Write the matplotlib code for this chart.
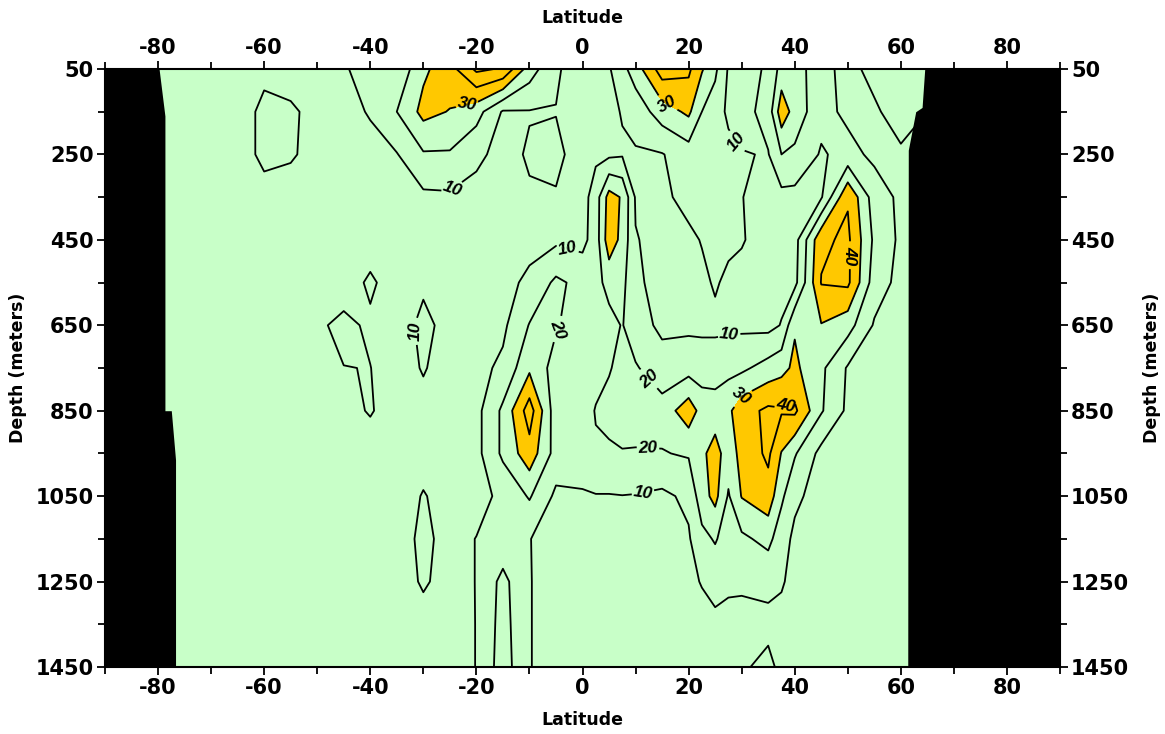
import numpy as np
import matplotlib
matplotlib.use("Agg")
import matplotlib.pyplot as plt

plt.rcParams['axes.unicode_minus'] = False

# ---------------- data ----------------
latitudes = [-80, -75, -70, -65, -60, -55, -50, -45, -40, -35, -30, -25, -20, -15, -10, -5,
             0, 2.5, 5, 7.5, 10, 15, 20, 22.5, 25, 27.5, 30, 35, 37.5, 40, 45, 50, 55, 60, 65]
depths = [50, 150, 250, 350, 450, 550, 650, 750, 850, 950, 1050, 1150, 1250, 1350, 1450]

d0050 = [5, 5, 5, 6, 8, 7, 8, 9.5, 12, 12, 28, 36, 52, 49, 25, 11,
         6, 8, 9, 17, 25, 45, 42, 31, 22, 9, 7, 11, 24, 26, 12, 8, 12, 12, 12]
d0150 = [5, 5, 5, 6, 12, 11, 8, 8, 10.5, 20, 33, 29.5, 24, 9, 9.5, 9.8,
         6, 7, 8, 10.5, 14, 25, 32, 20, 15, 8, 6, 14, 36, 26, 13, 8, 9, 13, 10]
d0250 = [5, 5, 5, 6, 12, 11, 7, 7, 8, 9.5, 19, 19, 12, 7, 11, 11.5,
         7, 8, 8, 9, 9, 9.5, 15, 13, 15, 13, 10.5, 9.5, 20, 18, 9, 13, 8, 9, 8]
d0350 = [5, 5, 5, 5, 7, 6, 6, 6, 6, 6, 8, 8.5, 7, 7, 9, 9.5,
         6, 15, 34, 29, 9, 8, 13, 12, 12, 12, 10.2, 7, 7, 7, 9, 39, 15, 8, 7]
d0450 = [5, 5, 5, 5, 6, 6, 6, 6, 7, 6, 7, 7, 7, 7, 7, 8,
         7, 15, 36, 27, 10.5, 7, 8, 10.5, 13, 12, 10.5, 7, 6, 6, 38, 42, 18, 8, 7]
d0550 = [5, 5, 5, 5, 5, 6, 6, 7, 11, 7, 9, 7, 7, 7, 12, 22,
         17, 17, 23, 23, 11, 8, 8, 8, 11, 8, 8, 6, 7, 7, 40.5, 42, 15, 7, 6]
d0650 = [5, 5, 5, 5, 5, 6, 9, 11.5, 9, 7, 11.5, 8, 7, 8, 20.5, 21,
         14, 16, 17, 20.5, 14, 8, 8, 8, 8, 8, 8, 7, 10.5, 29, 29.5, 24, 9, 6, 6]
d0750 = [5, 5, 5, 5, 5, 5, 6, 9.9, 10.1, 7, 10.5, 7, 7, 12, 28, 16,
         18, 17, 19.5, 22, 21, 14, 16, 15, 15, 17, 18, 24, 27, 32, 22, 9, 7, 6, 6]
d0850 = [5, 5, 5, 5, 5, 5, 5, 8, 10.5, 7, 8, 6, 7, 22, 45, 14,
         16, 20.5, 22, 24, 23, 24, 36, 26, 25, 28, 36, 42, 41, 42, 21, 8, 7, 6, 6]
d0950 = [5, 5, 5, 5, 5, 5, 5, 6, 7, 6, 7, 6, 7, 22, 36, 16,
         15, 19, 19, 19.5, 19.5, 19.5, 21, 28, 34, 25, 33, 42, 29.5, 21, 7, 6, 6, 6, 6]
d1050 = [5, 5, 5, 5, 5, 5, 5, 5, 6, 6, 10.5, 7, 7, 12, 21, 8,
         9, 9.5, 9.5, 9.8, 9.5, 8, 12, 26, 33, 19, 30.5, 36, 22, 12, 6, 5, 5, 5, 5]
d1150 = [5, 5, 5, 5, 5, 5, 5, 5, 5, 6, 12, 7, 10.2, 13, 10.2, 7,
         6, 6, 6, 6, 6, 6, 9, 17, 21, 15, 18, 23, 14, 8, 6, 5, 5, 5, 5]
d1250 = [5, 5, 5, 5, 5, 5, 5, 5, 5, 6, 11, 7, 10.2, 23, 10.3, 7,
         6, 6, 6, 6, 6, 6, 8, 10.5, 13, 11.5, 11, 12, 11, 7, 6, 5, 5, 5, 5]
d1350 = [5, 5, 5, 5, 5, 5, 5, 5, 5, 6, 7, 6, 10.2, 24, 10.3, 7,
         6, 6, 6, 6, 6, 6, 7, 7, 8, 7.5, 8, 8, 7, 6, 5, 5, 5, 5, 5]
d1450 = [5, 5, 5, 5, 5, 5, 5, 5, 5, 5, 6, 6, 10.2, 25, 10.3, 7,
         6, 6, 6, 6, 6, 6, 6, 6, 7, 8, 9, 12, 8, 7, 5, 5, 5, 5, 5]

# land (black) outline: latitude of the coast at a given depth
west_depths = [50, 160, 850, 850, 965, 1450]
west_lats = [-79.8, -78.7, -78.7, -77.5, -76.7, -76.7]
east_depths = [50, 140, 150, 240, 1450]
east_lats = [64.5, 64.0, 62.8, 61.4, 61.3]

line_levels = [10, 20, 30, 40, 50]
fill_levels = [-100, 30, 200]
fill_colors = ['#C8FFC8', '#FFC800']

# contour labels: level -> approximate (lat, depth) spots
label_spots = {
    10: [(-25.1, 317), (28.0, 233), (-2.8, 472), (-30.4, 661), (27.7, 689), (11.7, 1071)],
    20: [(-3.8, 666), (12.6, 774), (12.3, 954)],
    30: [(-21.9, 123), (16.0, 130), (29.2, 800)],
    40: [(50.4, 486), (37.2, 790)],
}

x_ticks = [-80, -60, -40, -20, 0, 20, 40, 60, 80]
y_ticks = [50, 250, 450, 650, 850, 1050, 1250, 1450]

# ---------------- plot ----------------
Z = np.array([d0050, d0150, d0250, d0350, d0450, d0550, d0650, d0750,
              d0850, d0950, d1050, d1150, d1250, d1350, d1450])

fig = plt.figure(figsize=(11.65, 7.34), dpi=100)
ax = fig.add_axes([0.0901, 0.0913, 0.8198, 0.8147])
ax.set_facecolor('black')

ax.contourf(latitudes, depths, Z, levels=fill_levels, colors=fill_colors)
for lev in line_levels:
    cs = ax.contour(latitudes, depths, Z, levels=[lev], colors='black', linewidths=1.3)
    if lev in label_spots:
        txts = ax.clabel(cs, manual=label_spots[lev], fmt='%d', fontsize=12.5,
                         inline=True, inline_spacing=3)
        for t in txts:
            t.set_fontweight('bold')
            t.set_fontstyle('italic')
            t.set_fontfamily(['Liberation Sans', 'DejaVu Sans'])

ax.fill_betweenx(west_depths, -90, west_lats, color='black', zorder=3, lw=0)
ax.fill_betweenx(east_depths, east_lats, 90, color='black', zorder=3, lw=0)

ax.set_xlim(-90, 90)
ax.set_ylim(1450, 50)
ax.set_xticks(x_ticks)
ax.set_yticks(y_ticks)
ax.set_xticks(np.arange(-90, 91, 10), minor=True)
ax.set_yticks(np.arange(150, 1450, 200), minor=True)
ax.tick_params(which='both', direction='out', top=True, right=True,
               labeltop=True, labelright=True, width=1.3)
ax.tick_params(which='major', length=6, labelsize=15, pad=2)
ax.tick_params(which='minor', length=5)
for lab in ax.get_xticklabels() + ax.get_yticklabels():
    lab.set_fontweight('bold')
for sp in ax.spines.values():
    sp.set_linewidth(1.5)

ax.set_xlabel('Latitude', fontsize=12.5, fontweight='bold', labelpad=9)
ax.set_ylabel('Depth (meters)', fontsize=12.5, fontweight='bold', labelpad=6)
sec = ax.secondary_xaxis('top')
sec.set_xticks([])
sec.set_xlabel('Latitude', fontsize=12.5, fontweight='bold', labelpad=33)
sec.spines['top'].set_visible(False)
secy = ax.secondary_yaxis('right')
secy.set_yticks([])
secy.set_ylabel('Depth (meters)', fontsize=12.5, fontweight='bold', labelpad=60)
secy.spines['right'].set_visible(False)

fig.savefig('out.png', dpi=100)
